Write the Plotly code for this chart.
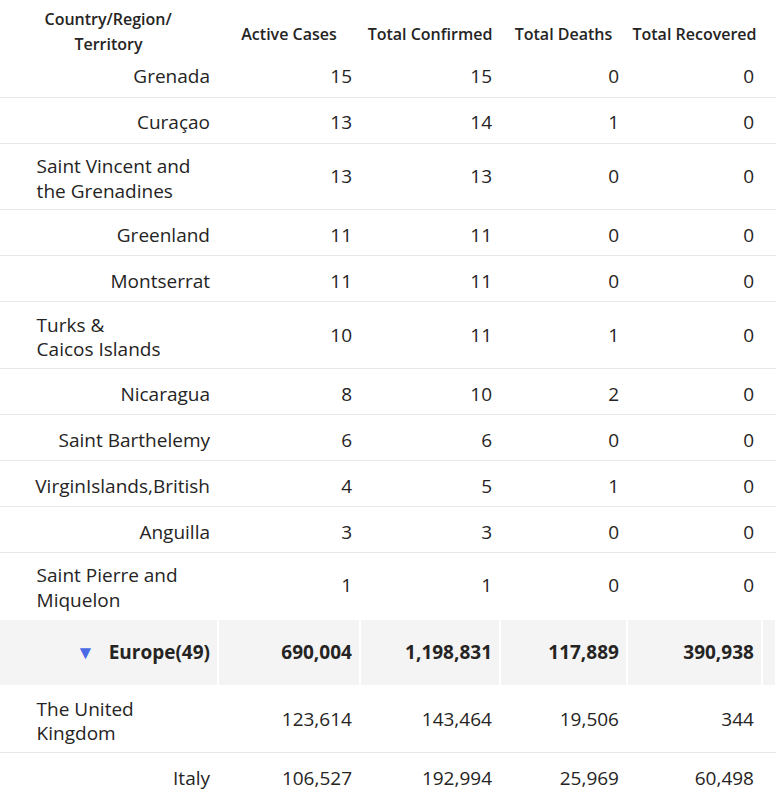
import plotly.graph_objects as go

# Table data
countries = [
    "Grenada", "Curaçao", "Saint Vincent and<br>the Grenadines", "Greenland",
    "Montserrat", "Turks &<br>Caicos Islands", "Nicaragua", "Saint Barthelemy",
    "VirginIslands,British", "Anguilla", "Saint Pierre and<br>Miquelon",
    "Europe(49)", "The United<br>Kingdom", "Italy",
]
active = [15, 13, 13, 11, 11, 10, 8, 6, 4, 3, 1, 690004, 123614, 106527]
confirmed = [15, 14, 13, 11, 11, 11, 10, 6, 5, 3, 1, 1198831, 143464, 192994]
deaths = [0, 1, 0, 0, 0, 1, 2, 0, 1, 0, 0, 117889, 19506, 25969]
recovered = [0, 0, 0, 0, 0, 0, 0, 0, 0, 0, 0, 390938, 344, 60498]
is_group = [False] * 11 + [True] + [False] * 2

headers = ["Country/Region/", "Active Cases", "Total Confirmed",
           "Total Deaths", "Total Recovered", ""]
header_line2 = ["Territory", "", "", "", "", ""]

FONT = "Open Sans"
SIZE = 19
TXT = "#252423"
GRID = "#e8e8e8"
GROUP_FILL = "#f4f4f4"
ARROW = "#4a6ae6"
CLEAR = "rgba(0,0,0,0)"
NB = "\u00a0"
# one extra pixel on the left so the outer border of the rule layer is hidden
widths = [219, 142, 140, 127, 135, 14]
FIG_W = sum(widths)
FIG_H = 794
NAME_W = widths[0] / FIG_W
HEAD_H = 51
ROW_H = 46

n = len(countries)
wrapped = ["<br>" in c for c in countries]
tall = [w or g for w, g in zip(wrapped, is_group)]


def ph(i):
    # invisible placeholder that keeps the row height of every layer equal
    return NB + "<br>" + NB if tall[i] else ""


def fmt(v, bold):
    s = f"{v:,}"
    return "<b>" + s + "</b>" if bold else s


series = [active, confirmed, deaths, recovered]

# cells of ordinary one-line rows
flat_cols = [[ph(i) if tall[i] else countries[i].replace(" ", NB) for i in range(n)]]
for s in series:
    flat_cols.append([ph(i) if tall[i] else fmt(s[i], False) for i in range(n)])
flat_cols.append([ph(i) for i in range(n)])

# cells of two-line rows, drawn half a line lower
mid_cols = [[("<b>" + countries[i] + "</b><br>" + NB) if is_group[i] else ph(i)
             for i in range(n)]]
for s in series:
    mid_cols.append([(fmt(s[i], is_group[i]) + "<br>" + NB) if tall[i] else ""
                     for i in range(n)])
mid_cols.append([ph(i) for i in range(n)])

# wrapped names, left aligned with an indent
left_names = ["<br>".join(NB * 6 + p for p in countries[i].split("<br>"))
              if wrapped[i] else ph(i) for i in range(n)]
arrows = [(NB * 14 + "▼<br>" + NB) if is_group[i] else ph(i) for i in range(n)]

blank6 = [[ph(i) for i in range(n)] for _ in widths]
group_fill = [[GROUP_FILL if g else CLEAR for g in is_group] for _ in widths]
group_line = [["white" if g else CLEAR for g in is_group] for _ in widths]


def layer(values, head_h, colw=None, domain_x=(0, 1), align="right",
          color=TXT, fill=CLEAR, line=CLEAR, lw=1, head_fill=CLEAR):
    return go.Table(
        columnwidth=colw,
        domain=dict(x=list(domain_x), y=[0, 1]),
        header=dict(values=[""] * len(values), height=head_h,
                    fill_color=head_fill, line=dict(color=head_fill, width=1)),
        cells=dict(values=values, height=ROW_H, align=align,
                   fill_color=fill, line=dict(color=line, width=lw),
                   font=dict(family=FONT, size=SIZE, color=color)),
        hoverinfo="skip",
    )


fig = go.Figure()
# row rules
fig.add_trace(layer([[ph(i) for i in range(n)]], HEAD_H, fill="white",
                    line=GRID, color=CLEAR, head_fill="white"))
# grey group band with white separators
fig.add_trace(layer(blank6, HEAD_H, colw=widths, fill=group_fill,
                    line=group_line, lw=2, color=CLEAR))
# text layers
fig.add_trace(layer(flat_cols, HEAD_H + 10, colw=widths))
fig.add_trace(layer([left_names], HEAD_H + 2, domain_x=(0, NAME_W), align="left"))
fig.add_trace(layer(mid_cols, HEAD_H + 12, colw=widths))
fig.add_trace(layer([arrows], HEAD_H + 12, domain_x=(0, NAME_W), align="left",
                    color=ARROW))

# sticky header: white band with first title line, then the lower lines
hfont = dict(family=FONT, size=16, color=TXT, weight=600)


def header_layer(values, shift, fill):
    return go.Table(
        columnwidth=widths,
        domain=dict(x=[0, 1], y=[0, 1 - shift / FIG_H]),
        header=dict(values=values, fill_color=fill, height=30,
                    line=dict(color=fill, width=1), align="center", font=hfont),
        cells=dict(values=[[] for _ in widths]),
        hoverinfo="skip",
    )


fig.add_trace(header_layer([headers[0] + "<br>" + NB] + [""] * 5, 0, "white"))
fig.add_trace(header_layer([""] + [h.replace(" ", NB) for h in headers[1:]], 20, CLEAR))
fig.add_trace(header_layer(header_line2, 30, CLEAR))

fig.update_layout(width=FIG_W, height=FIG_H, margin=dict(l=0, r=0, t=0, b=0),
                  paper_bgcolor="white")

fig.write_html("out.html", config={"displayModeBar": False},
               post_script="document.body.style.margin='0 0 0 -1px';")
